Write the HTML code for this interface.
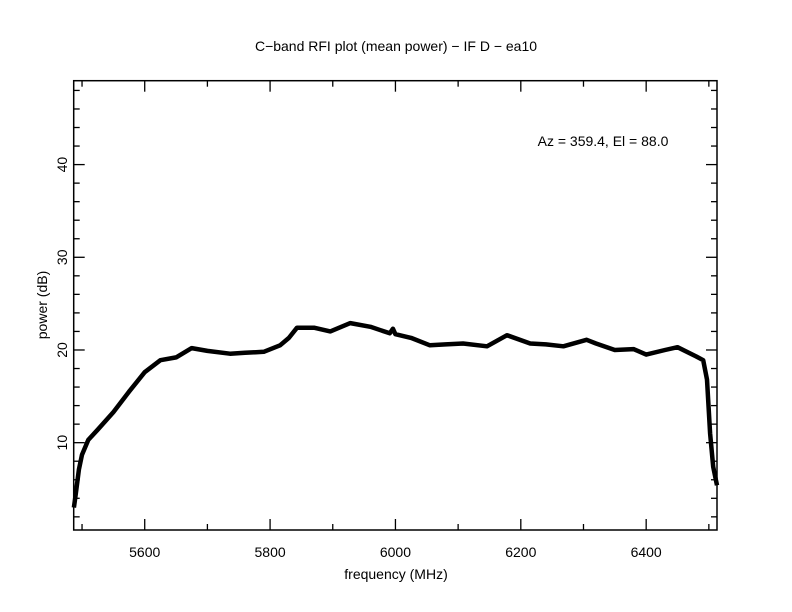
<!DOCTYPE html>
<html><head><meta charset="utf-8"><style>
body{margin:0;background:#fff}
svg{display:block}
text{font-family:"Liberation Sans",sans-serif;fill:#000}
</style></head><body>
<svg id="chart" width="792" height="612" viewBox="0 0 792 612" xmlns="http://www.w3.org/2000/svg">
<rect width="792" height="612" fill="#fff"/>
<text x="396" y="51" font-size="14" text-anchor="middle">C−band RFI plot (mean power) − IF D − ea10</text>
<text x="603" y="146" font-size="14" text-anchor="middle">Az = 359.4, El = 88.0</text>
<text x="396" y="579" font-size="14" text-anchor="middle">frequency (MHz)</text>
<text x="0" y="0" font-size="14" text-anchor="middle" transform="translate(47,305) rotate(-90)">power (dB)</text>
<g id="axes"></g>
<g id="series"></g>
<rect x="73.7" y="80.7" width="643.3" height="449.3" fill="none" stroke="#000" stroke-width="1.5"/>
</svg>
<script>
const freqs = [5487,5490,5495,5500,5510,5525,5550,5575,5600,5625,5650,5675,5700,5736,5760,5790,5816,5830,5843,5870,5896,5928,5960,5991,5996,6000,6025,6055,6080,6108,6146,6178,6215,6240,6268,6305,6320,6350,6380,6400,6430,6450,6480,6491,6497,6502,6507,6513];
const powers = [3.0,4.5,7.1,8.7,10.3,11.4,13.3,15.5,17.6,18.9,19.2,20.2,19.9,19.6,19.7,19.8,20.5,21.3,22.4,22.4,22.0,22.9,22.5,21.8,22.3,21.7,21.3,20.5,20.6,20.7,20.4,21.6,20.7,20.6,20.4,21.1,20.7,20.0,20.1,19.5,20.0,20.3,19.3,18.9,16.8,11.0,7.4,5.4];
const xTicks = [5600,5800,6000,6200,6400];
const yTicks = [10,20,30,40];

const X0=73.7,X1=717,Y0=530,Y1=80.7;
const xMin=5486.7,xMax=6513,yMin=0.58,yMax=49.05;
const sx=v=>X0+(v-xMin)/(xMax-xMin)*(X1-X0);
const sy=v=>Y0-(v-yMin)/(yMax-yMin)*(Y0-Y1);
const NS="http://www.w3.org/2000/svg";
const axes=document.getElementById('axes');
function ln(x1,y1,x2,y2,name){const l=document.createElementNS(NS,'line');
l.setAttribute('x1',x1);l.setAttribute('y1',y1);l.setAttribute('x2',x2);l.setAttribute('y2',y2);
l.setAttribute('stroke','#000');l.setAttribute('stroke-width','1.3');


axes.appendChild(l);}
for(let f=5500;f<=6500;f+=100){const x=sx(f);const major=f%200===0;const L=major?11:6;
ln(x,Y0,x,Y0-L,'x-tick');ln(x,Y1,x,Y1+L,'x-tick-top');}
for(let p=2;p<=48;p+=2){const y=sy(p);const major=p%10===0;const L=major?11:6;
ln(X0,y,X0+L,y,'y-tick');ln(X1,y,X1-L,y,'y-tick-right');}
xTicks.forEach(f=>{const t=document.createElementNS(NS,'text');
t.setAttribute('x',sx(f));t.setAttribute('y',557);t.setAttribute('font-size','14');t.setAttribute('text-anchor','middle');
t.textContent=f;


axes.appendChild(t);});
yTicks.forEach(p=>{const t=document.createElementNS(NS,'text');
const y=sy(p);
t.setAttribute('transform','translate(67,'+y+') rotate(-90)');t.setAttribute('font-size','14');t.setAttribute('text-anchor','middle');
t.textContent=p;


axes.appendChild(t);});
const path=document.createElementNS(NS,'path');
path.setAttribute('d',freqs.map((f,i)=>(i?'L':'M')+sx(f).toFixed(1)+','+sy(powers[i]).toFixed(1)).join(''));
path.setAttribute('fill','none');path.setAttribute('stroke','#000');path.setAttribute('stroke-width','4.5');path.setAttribute('stroke-linejoin','round');


document.getElementById('series').appendChild(path);
</script>
</body></html>
